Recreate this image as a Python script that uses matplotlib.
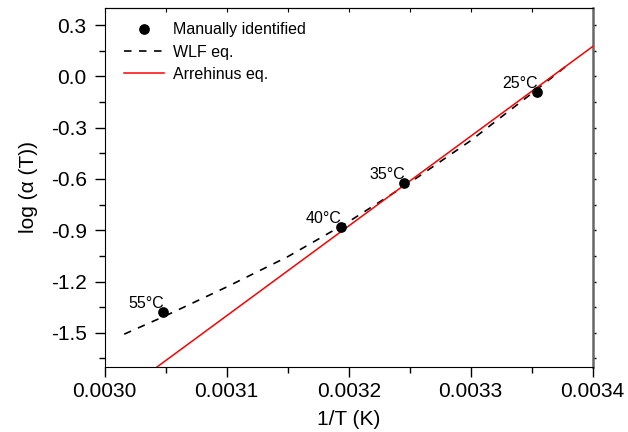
import matplotlib
matplotlib.use("Agg")
import matplotlib.pyplot as plt
from matplotlib.ticker import MultipleLocator, FuncFormatter

plt.rcParams['font.family'] = ['Liberation Sans', 'DejaVu Sans']

# shift factors picked by hand from the master curves
temps_C = [55, 40, 35, 25]
temp_labels = ["55\u00b0C", "40\u00b0C", "35\u00b0C", "25\u00b0C"]
log_aT = [-1.378, -0.881, -0.626, -0.093]

# WLF curve
wlf_x = [0.003016, 0.00305, 0.00310, 0.00315, 0.00320, 0.00325, 0.00330, 0.00335, 0.003379]
wlf_y = [-1.508, -1.400, -1.232, -1.055, -0.850, -0.622, -0.376, -0.100, 0.064]

# Arrhenius fit
arr_x = [0.0030, 0.0034]
arr_y = [-1.925, 0.175]

inv_T = [1.0 / (t + 273.15) for t in temps_C]

fig = plt.figure(figsize=(6.28, 4.32), dpi=100)
ax = fig.add_axes([0.1667, 0.1505, 0.7771, 0.831])

ax.plot(inv_T, log_aT, "o", color="black", markersize=6.7, label="Manually identified", zorder=4)
ax.plot(wlf_x, wlf_y, color="black", lw=1.2, linestyle=(0, (4.5, 4.5)), label="WLF eq.")
ax.plot(arr_x, arr_y, color="red", lw=1.1, label="Arrehinus eq.")

for x, y, s in zip(inv_T, log_aT, temp_labels):
    ax.annotate(s, (x, y), xytext=(1, 3), textcoords="offset points",
                ha="right", va="baseline", fontsize=11.5)

ax.set_xlim(0.0030, 0.0034)
ax.set_ylim(-1.7, 0.4)
ax.xaxis.set_major_locator(MultipleLocator(0.0001))
ax.xaxis.set_minor_locator(MultipleLocator(0.00005))
ax.yaxis.set_major_locator(MultipleLocator(0.3))
ax.yaxis.set_minor_locator(MultipleLocator(0.15))
ax.xaxis.set_major_formatter(FuncFormatter(lambda v, p: "%.4f" % v))
ax.yaxis.set_major_formatter(FuncFormatter(lambda v, p: "%.1f" % (0.0 if abs(v) < 1e-9 else v)))

ax.tick_params(which="major", direction="out", length=7, width=1, labelsize=15)
ax.tick_params(which="minor", direction="out", length=4, width=1)
ax.tick_params(axis="x", pad=4)
ax.tick_params(axis="y", pad=6)

# top and right ticks
top = ax.secondary_xaxis("top")
top.xaxis.set_major_locator(MultipleLocator(0.00005))
top.tick_params(direction="in", length=3, width=0.8, labeltop=False)
right = ax.secondary_yaxis("right")
right.yaxis.set_major_locator(MultipleLocator(0.15))
right.tick_params(direction="out", length=2, width=1, labelright=False)
right.spines["right"].set_color("#666666")
right.spines["right"].set_linewidth(1.8)
ax.spines["right"].set_visible(False)

ax.set_xlabel("1/T (K)", fontsize=15, labelpad=6)
ax.set_ylabel("log (\u03b1 (T))", fontsize=15, labelpad=9)

ax.legend(loc="upper left", bbox_to_anchor=(0.01, 1.0), frameon=False, fontsize=11.5,
          handlelength=2.5, handletextpad=0.6, labelspacing=0.45, numpoints=1)

fig.savefig("out.png", dpi=100)
